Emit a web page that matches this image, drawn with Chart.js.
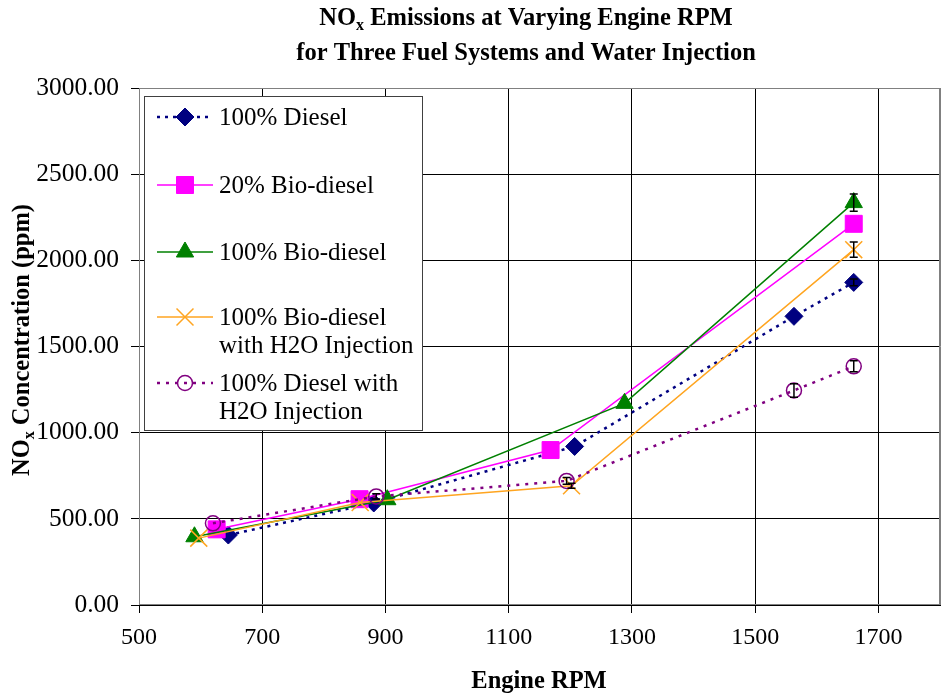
<!DOCTYPE html>
<html>
<head>
<meta charset="utf-8">
<script src="https://cdn.jsdelivr.net/npm/chart.js@4.4.0/dist/chart.umd.min.js"></script>
<style>
  html, body { margin: 0; padding: 0; background: #ffffff; }
  #wrap { width: 943px; height: 698px; }
</style>
</head>
<body>
<div id="wrap"><canvas id="c" width="943" height="698"></canvas></div>
<script>
// Engine speed (RPM) and NOx concentration (ppm) for each fuel system
const seriesNames = [
  ['100% Diesel'],
  ['20% Bio-diesel'],
  ['100% Bio-diesel'],
  ['100% Bio-diesel', 'with H2O Injection'],
  ['100% Diesel with', 'H2O Injection']
];

const dieselRpm = [645, 881, 1207, 1563, 1660];
const dieselNox = [406, 592, 920, 1675, 1872];
const dieselErr = [0, 0, 0, 0, 20];

const bio20Rpm = [626, 858, 1168, 1660];
const bio20Nox = [439, 614, 899, 2212];
const bio20Err = [0, 0, 0, 0];

const bio100Rpm = [590, 903, 1288, 1660];
const bio100Nox = [396, 611, 1170, 2335];
const bio100Err = [0, 0, 0, 50];

const bio100WaterRpm = [597, 859, 1202, 1660];
const bio100WaterNox = [388, 595, 692, 2062];
const bio100WaterErr = [0, 0, 15, 44];

const dieselWaterRpm = [620, 885, 1194, 1563, 1660];
const dieselWaterNox = [474, 630, 720, 1245, 1385];
const dieselWaterErr = [0, 15, 20, 39, 32];

// Axis ticks; 1800 closes the axis but carries no label
const xTicks = [500, 700, 900, 1100, 1300, 1500, 1700, 1800];
const xTickLabels = ['500', '700', '900', '1100', '1300', '1500', '1700', ''];
const yTicks = [0, 500, 1000, 1500, 2000, 2500, 3000];

const FONT = "'Liberation Serif', 'Times New Roman', serif";

function pts(xs, ys) { return xs.map((x, i) => ({ x: x, y: ys[i] })); }

const datasets = [
  { label: seriesNames[0].join(' '), data: pts(dieselRpm, dieselNox), errors: dieselErr,
    borderColor: '#000080', backgroundColor: '#000080', borderWidth: 2.5, borderDash: [3, 5],
    pointStyle: 'rectRot', pointRadius: 9, pointBorderWidth: 1, order: 5 },
  { label: seriesNames[1].join(' '), data: pts(bio20Rpm, bio20Nox), errors: bio20Err,
    borderColor: '#FF00FF', backgroundColor: '#FF00FF', borderWidth: 1.5,
    pointStyle: 'rect', pointRadius: 12, pointBorderWidth: 1, order: 4 },
  { label: seriesNames[2].join(' '), data: pts(bio100Rpm, bio100Nox), errors: bio100Err,
    borderColor: '#008000', backgroundColor: '#008000', borderWidth: 1.5,
    pointStyle: 'triangle', pointRadius: 10, pointBorderWidth: 1, order: 3 },
  { label: seriesNames[3].join(' '), data: pts(bio100WaterRpm, bio100WaterNox), errors: bio100WaterErr,
    borderColor: '#FFA520', backgroundColor: '#FFA520', borderWidth: 1.5,
    pointStyle: 'crossRot', pointRadius: 12, pointBorderWidth: 1.5, order: 2 },
  { label: seriesNames[4].join(' '), data: pts(dieselWaterRpm, dieselWaterNox), errors: dieselWaterErr,
    borderColor: '#800080', backgroundColor: 'rgba(0,0,0,0)', borderWidth: 2.5, borderDash: [3, 6],
    pointStyle: 'circle', pointRadius: 7.5, pointBorderWidth: 1.5, order: 1 }
];
datasets.forEach(d => {
  d.showLine = true; d.fill = false; d.tension = 0;
  d.pointBackgroundColor = d.backgroundColor; d.pointBorderColor = d.borderColor;
});

// Text with a subscript "x" after a leading "NO"
function drawNox(ctx, rest, size, cx, cy) {
  const big = 'bold ' + size + 'px ' + FONT;
  const small = 'bold ' + Math.round(size * 0.65) + 'px ' + FONT;
  ctx.font = big; const wNO = ctx.measureText('NO').width; const wRest = ctx.measureText(rest).width;
  ctx.font = small; const wX = ctx.measureText('x').width;
  const total = wNO + wX + wRest;
  let x = cx - total / 2;
  ctx.textAlign = 'left'; ctx.textBaseline = 'alphabetic';
  ctx.font = big; ctx.fillText('NO', x, cy); x += wNO;
  ctx.font = small; ctx.fillText('x', x, cy + size * 0.22); x += wX;
  ctx.font = big; ctx.fillText(rest, x, cy);
}

const textPlugin = {
  id: 'texts',
  afterDraw(chart) {
    const ctx = chart.ctx;
    ctx.save();
    ctx.fillStyle = '#000';
    drawNox(ctx, ' Emissions at Varying Engine RPM', 24.5, 526, 25);
    ctx.font = 'bold 24.5px ' + FONT; ctx.textAlign = 'center';
    ctx.fillText('for Three Fuel Systems and Water Injection', 526, 60);
    ctx.fillText('Engine RPM', 539, 688);
    ctx.translate(29, 340); ctx.rotate(-Math.PI / 2);
    drawNox(ctx, ' Concentration (ppm)', 24.5, 0, 0);
    ctx.restore();
  }
};

const framePlugin = {
  id: 'frame',
  beforeDatasetsDraw(chart) {
    const a = chart.chartArea, ctx = chart.ctx;
    ctx.save();
    ctx.strokeStyle = '#808080'; ctx.lineWidth = 1;
    ctx.strokeRect(a.left + 0.5, a.top + 0.5, a.right - a.left - 1, a.bottom - a.top - 1);
    ctx.restore();
  }
};

const errorBarPlugin = {
  id: 'errorBars',
  afterDatasetsDraw(chart) {
    const ctx = chart.ctx, xs = chart.scales.x, ys = chart.scales.y;
    ctx.save();
    ctx.strokeStyle = '#000'; ctx.lineWidth = 1.5;
    chart.data.datasets.forEach(ds => {
      ds.data.forEach((p, i) => {
        const e = ds.errors[i];
        if (!e) return;
        const px = xs.getPixelForValue(p.x);
        const top = ys.getPixelForValue(p.y + e), bot = ys.getPixelForValue(p.y - e);
        ctx.beginPath();
        ctx.moveTo(px, top); ctx.lineTo(px, bot);
        ctx.moveTo(px - 4, top); ctx.lineTo(px + 4, top);
        ctx.moveTo(px - 4, bot); ctx.lineTo(px + 4, bot);
        ctx.stroke();
      });
    });
    ctx.restore();
  }
};

const legendPlugin = {
  id: 'boxLegend',
  afterDraw(chart) {
    const ctx = chart.ctx;
    const box = { l: 144.5, t: 96.5, r: 422.5, b: 430.5 };
    const rows = [117, 185, 252, 317, 383];
    ctx.save();
    ctx.fillStyle = '#fff';
    ctx.fillRect(box.l, box.t, box.r - box.l, box.b - box.t);
    ctx.strokeStyle = '#404040'; ctx.lineWidth = 1;
    ctx.strokeRect(box.l, box.t, box.r - box.l, box.b - box.t);
    chart.data.datasets.forEach((ds, i) => {
      const y = rows[i];
      ctx.save();
      ctx.strokeStyle = ds.borderColor; ctx.lineWidth = ds.borderWidth;
      ctx.setLineDash(ds.borderDash || []);
      ctx.beginPath(); ctx.moveTo(157, y); ctx.lineTo(213, y); ctx.stroke();
      ctx.setLineDash([]);
      ctx.fillStyle = ds.pointBackgroundColor; ctx.strokeStyle = ds.pointBorderColor;
      ctx.lineWidth = ds.pointBorderWidth;
      Chart.helpers.drawPoint(ctx, { pointStyle: ds.pointStyle, radius: ds.pointRadius, rotation: 0, borderWidth: ds.pointBorderWidth }, 185, y);
      ctx.restore();
      ctx.fillStyle = '#000'; ctx.font = '25px ' + FONT;
      ctx.textAlign = 'left'; ctx.textBaseline = 'middle';
      seriesNames[i].forEach((line, k) => ctx.fillText(line, 219, y + k * 28 + 1));
    });
    ctx.restore();
  }
};

const isAxisEnd = c => c.tick && c.tick.value === 1800;

new Chart(document.getElementById('c'), {
  type: 'scatter',
  data: { datasets: datasets },
  plugins: [framePlugin, errorBarPlugin, legendPlugin, textPlugin],
  options: {
    responsive: false,
    animation: false,
    devicePixelRatio: 1,
    layout: { autoPadding: false, padding: { top: 88, right: 3, left: 0, bottom: 0 } },
    plugins: { legend: { display: false }, tooltip: { enabled: false }, title: { display: false } },
    scales: {
      x: {
        type: 'linear', min: 500, max: 1800,
        afterBuildTicks: s => { s.ticks = xTicks.map(v => ({ value: v })); },
        afterFit: s => { s.height = 93; s.paddingRight = 0; s.paddingLeft = 0; },
        ticks: { color: '#000', font: { family: FONT, size: 24 }, padding: 10, maxRotation: 0,
                 autoSkip: false, callback: (v, i) => xTickLabels[i] },
        grid: { color: c => isAxisEnd(c) ? '#808080' : '#000', lineWidth: 1, tickLength: 8,
                tickColor: c => isAxisEnd(c) ? 'rgba(0,0,0,0)' : '#000' },
        border: { color: '#000', width: 1 }
      },
      y: {
        type: 'linear', min: 0, max: 3000,
        afterBuildTicks: s => { s.ticks = yTicks.map(v => ({ value: v })); },
        afterFit: s => { s.width = 139; s.paddingTop = 0; s.paddingBottom = 0; },
        ticks: { color: '#000', font: { family: FONT, size: 25.5 }, padding: 12,
                 callback: v => Number(v).toFixed(2) },
        grid: { color: '#000', lineWidth: 1, tickLength: 8, tickColor: '#000' },
        border: { color: '#000', width: 1 }
      }
    }
  }
});
</script>
</body>
</html>
